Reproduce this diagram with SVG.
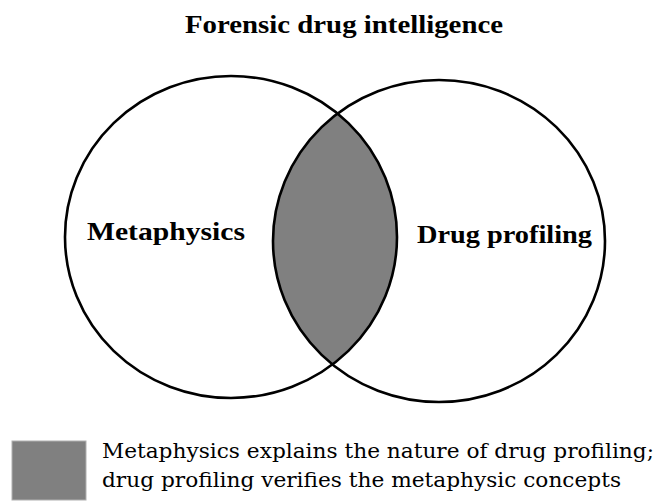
<svg xmlns="http://www.w3.org/2000/svg" width="658" height="502" viewBox="0 0 658 502">
  <style>
    .title { font-family: "Liberation Serif", "DejaVu Serif", serif; font-weight: bold; font-size: 26px; fill: #000; }
    .label { font-family: "Liberation Serif", "DejaVu Serif", serif; font-weight: bold; font-size: 26px; fill: #000; }
    .note { font-family: "DejaVu Serif", "Liberation Serif", serif; font-weight: normal; font-size: 21px; fill: #000; }
    .set { fill: none; stroke: #000; stroke-width: 2.6; }
    .overlap { fill: #808080; }
  </style>
  <defs>
    <clipPath id="clip-left">
      <ellipse cx="231" cy="237" rx="166" ry="161"/>
    </clipPath>
  </defs>

  <rect width="658" height="502" fill="#fff"/>

  <text class="title" x="344" y="33" text-anchor="middle" textLength="318" lengthAdjust="spacingAndGlyphs">Forensic drug intelligence</text>

  <!-- shared region of the two sets -->
  <g id="intersection">
    <ellipse class="overlap" cx="439" cy="241" rx="166" ry="161" clip-path="url(#clip-left)"/>
  </g>

  <g id="metaphysics">
    <ellipse class="set" cx="231" cy="237" rx="166" ry="161"/>
    <text class="label" x="87" y="240" textLength="158" lengthAdjust="spacingAndGlyphs">Metaphysics</text>
  </g>

  <g id="drug-profiling">
    <ellipse class="set" cx="439" cy="241" rx="166" ry="161"/>
    <text class="label" x="417" y="243" textLength="175" lengthAdjust="spacingAndGlyphs">Drug profiling</text>
  </g>

  <g id="legend">
    <rect x="12" y="441" width="74" height="59" fill="#808080" stroke="#b0b0b0" stroke-width="1"/>
    <text class="note" x="102" y="458" textLength="552" lengthAdjust="spacingAndGlyphs">Metaphysics explains the nature of drug profiling;</text>
    <text class="note" x="102" y="487" textLength="519" lengthAdjust="spacingAndGlyphs">drug profiling verifies the metaphysic concepts</text>
  </g>
</svg>
